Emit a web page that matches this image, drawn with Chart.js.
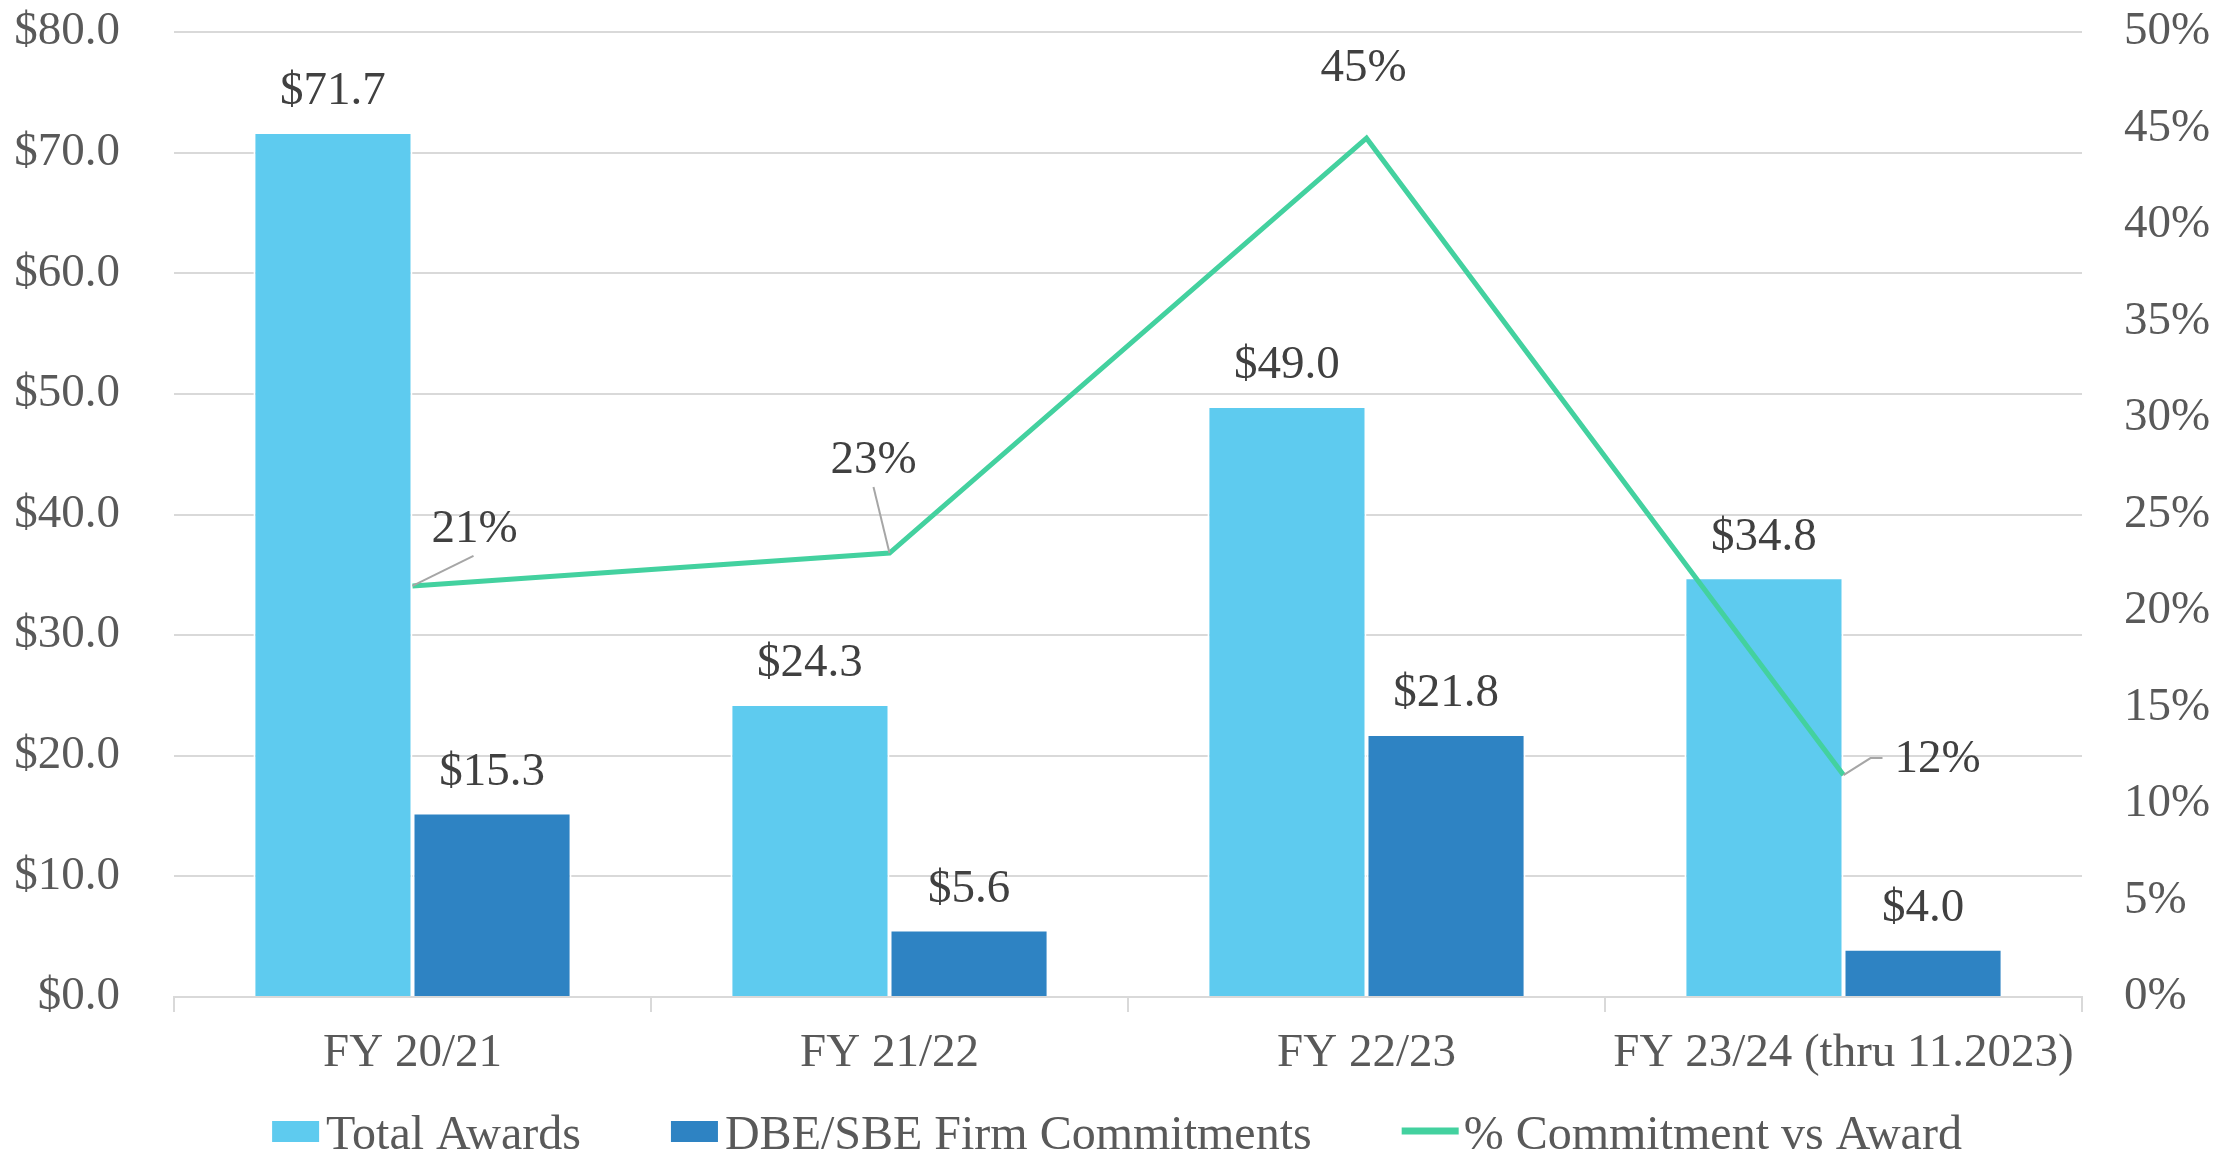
<!DOCTYPE html>
<html>
<head>
<meta charset="utf-8">
<script src="https://cdn.jsdelivr.net/npm/chart.js@4.4.0/dist/chart.umd.min.js"></script>
<style>
    html, body { margin: 0; padding: 0; background: #fff; overflow: hidden; }
</style>
</head>
<body>
<canvas id="awardsChart" width="2222" height="1150"></canvas>
<script>
var categories = ['FY 20/21', 'FY 21/22', 'FY 22/23', 'FY 23/24 (thru 11.2023)'];
var totalAwards = [71.7, 24.3, 49.0, 34.8];
var firmCommitments = [15.3, 5.6, 21.8, 4.0];
var commitmentPct = [21.3, 23.0, 44.5, 11.5];

var FONT_FAMILY = '"Liberation Serif", "Times New Roman", serif';
var FONT_SIZE = 47;
var LEGEND_FONT_SIZE = 48;

// text offsets for the % labels (relative to each line point) and their leader lines
var pctLabelOffsets = [
    { dx: 62, dy: -56, leader: [[0, 0], [61, -30]] },
    { dx: -16, dy: -92, leader: [[0, 0], [-16, -66]] },
    { dx: -3, dy: -69, leader: null },
    { dx: 94, dy: -15, leader: [[0, 0], [27, -17], [39, -17]] }
];

var valueLabels = {
    id: 'valueLabels',
    afterDatasetsDraw: function(chart) {
        var ctx = chart.ctx;
        ctx.save();
        ctx.font = FONT_SIZE + 'px ' + FONT_FAMILY;
        ctx.fillStyle = '#404040';
        ctx.textAlign = 'center';
        ctx.textBaseline = 'middle';
        [0, 1].forEach(function(di) {
            var ds = chart.data.datasets[di];
            chart.getDatasetMeta(di).data.forEach(function(bar, i) {
                ctx.fillText('$' + ds.data[i].toFixed(1), bar.x, bar.y - 40);
            });
        });

        var lineDs = chart.data.datasets[2];
        chart.getDatasetMeta(2).data.forEach(function(pt, i) {
            var o = pctLabelOffsets[i];
            if (o.leader) {
                ctx.beginPath();
                ctx.strokeStyle = '#a6a6a6';
                ctx.lineWidth = 2;
                o.leader.forEach(function(p, k) {
                    if (k === 0) ctx.moveTo(pt.x + p[0], pt.y + p[1]);
                    else ctx.lineTo(pt.x + p[0], pt.y + p[1]);
                });
                ctx.stroke();
            }
            ctx.fillText(Math.round(lineDs.data[i]) + '%', pt.x + o.dx, pt.y + o.dy);
        });
        ctx.restore();
    }
};

var bottomLegend = {
    id: 'bottomLegend',
    afterDraw: function(chart) {
        var ctx = chart.ctx;
        ctx.save();
        ctx.font = LEGEND_FONT_SIZE + 'px ' + FONT_FAMILY;
        ctx.textBaseline = 'middle';
        ctx.textAlign = 'left';
        var items = chart.data.datasets.map(function(ds) {
            var isLine = ds.type === 'line';
            return {
                text: ds.label,
                color: isLine ? ds.borderColor : ds.backgroundColor,
                isLine: isLine,
                markW: isLine ? 57 : 47,
                gap: isLine ? 5 : 7,
                textW: ctx.measureText(ds.label).width
            };
        });
        var spacing = 90;
        var total = 0;
        items.forEach(function(it, i) {
            total += it.markW + it.gap + it.textW + (i > 0 ? spacing : 0);
        });
        var x = (chart.width - total) / 2 + 6;
        var cy = 1131;
        items.forEach(function(it) {
            ctx.fillStyle = it.color;
            if (it.isLine) {
                ctx.fillRect(x, cy - 3.5, it.markW, 7);
            } else {
                ctx.fillRect(x, cy - 10, it.markW, 21);
            }
            x += it.markW + it.gap;
            ctx.fillStyle = '#595959';
            ctx.fillText(it.text, x, cy + 5);
            x += it.textW + spacing;
        });
        ctx.restore();
    }
};

function renderAwardsChart() {
    var ctx = document.getElementById('awardsChart').getContext('2d');
    Chart.defaults.font.family = FONT_FAMILY;
    Chart.defaults.font.size = FONT_SIZE;
    Chart.defaults.color = '#595959';

    new Chart(ctx, {
        data: {
            labels: categories,
            datasets: [{
                type: 'bar',
                label: 'Total Awards',
                data: totalAwards,
                backgroundColor: '#5ecbef',
                borderColor: '#ffffff',
                borderWidth: 2,
                categoryPercentage: 0.667,
                barPercentage: 1.0,
                yAxisID: 'y',
                order: 1
            }, {
                type: 'bar',
                label: 'DBE/SBE Firm Commitments',
                data: firmCommitments,
                backgroundColor: '#2e83c3',
                borderColor: '#ffffff',
                borderWidth: 2,
                categoryPercentage: 0.667,
                barPercentage: 1.0,
                yAxisID: 'y',
                order: 1
            }, {
                type: 'line',
                label: '% Commitment vs Award',
                data: commitmentPct,
                borderColor: '#43d19f',
                backgroundColor: '#43d19f',
                borderWidth: 5,
                pointRadius: 0,
                tension: 0,
                yAxisID: 'y1',
                order: 0
            }]
        },
        options: {
            responsive: false,
            animation: false,
            layout: { padding: { top: 32, left: 0, right: 0, bottom: 0 } },
            plugins: {
                legend: { display: false },
                title: { display: false },
                tooltip: { enabled: false }
            },
            scales: {
                x: {
                    grid: {
                        offset: true,
                        drawOnChartArea: false,
                        drawTicks: true,
                        tickLength: 15,
                        color: '#d9d9d9',
                        lineWidth: 2
                    },
                    border: { display: true, color: '#d9d9d9', width: 2 },
                    ticks: { padding: 13, maxRotation: 0, autoSkip: false },
                    afterFit: function(scale) {
                        scale.height = 153;
                        scale.paddingLeft = 0;
                        scale.paddingRight = 0;
                    }
                },
                y: {
                    position: 'left',
                    min: 0,
                    max: 80,
                    ticks: {
                        stepSize: 10,
                        padding: 54,
                        callback: function(v) { return '$' + v.toFixed(1); }
                    },
                    grid: { color: '#d9d9d9', lineWidth: 2, drawTicks: false },
                    border: { display: false },
                    afterFit: function(scale) {
                        scale.width = 174;
                        scale.paddingTop = 0;
                        scale.paddingBottom = 0;
                    }
                },
                y1: {
                    position: 'right',
                    min: 0,
                    max: 50,
                    ticks: {
                        stepSize: 5,
                        padding: 42,
                        callback: function(v) { return v + '%'; }
                    },
                    grid: { drawOnChartArea: false, drawTicks: false },
                    border: { display: false },
                    afterFit: function(scale) {
                        scale.width = 140;
                        scale.paddingTop = 0;
                        scale.paddingBottom = 0;
                    }
                }
            }
        },
        plugins: [valueLabels, bottomLegend]
    });
}

document.addEventListener('DOMContentLoaded', renderAwardsChart);
</script>
</body>
</html>
